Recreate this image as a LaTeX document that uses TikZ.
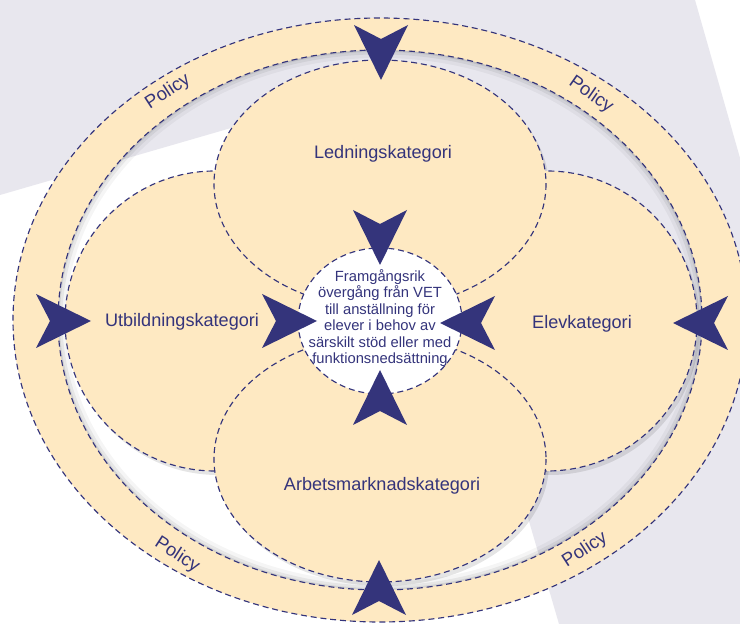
\documentclass[tikz,border=0pt]{standalone}
\usepackage{fontspec}
\setmainfont{Liberation Sans}
\usepackage{tikz}
\usepackage{color,xcolor}
\definecolor{pc}{HTML}{FEE9C2}
\definecolor{nv}{HTML}{34347B}
\definecolor{bg}{HTML}{E8E7EE}

\begin{document}
\begin{tikzpicture}[x=0.02cm,y=-0.02cm,
    dsh/.style={draw=nv,line width=0.65pt,dash pattern=on 3.4pt off 2.2pt},
    blob/.style={fill=pc,dsh},
    cat/.style={text=nv,anchor=base,inner sep=0pt,font=\fontsize{10.3}{12}\selectfont},
    pol/.style={text=nv,inner sep=0pt,font=\fontsize{10.5}{12}\selectfont},
    shd/.style={fill=black,opacity=0.1},
    pics/kite/.style={code={\fill[nv] (0,0) -- (-55,27) -- (-41,0) -- (-55,-27) -- cycle;}}]
  % page background
  \fill[white] (0,0) rectangle (740,624);
  \fill[bg] (0,0) -- (695,0) -- (740,158) -- (740,624) -- (559,624) -- (400,79) -- (0,195) -- cycle;
  \useasboundingbox (0,0) rectangle (740,624);
  \coordinate (mid) at (380,320);
  \coordinate (ut) at (215,321);
  \coordinate (el) at (547,321);
  \coordinate (le) at (380,184);
  \coordinate (ar) at (380,459);
  % policy ring
  \fill[pc,even odd rule] (mid) ellipse [x radius=367,y radius=302] (mid) ellipse [x radius=322,y radius=270];
  \begin{scope}
    \clip (mid) ellipse [x radius=322,y radius=270];
    \foreach \w/\o in {9pt/0.04,5pt/0.06,2pt/0.08}
      \draw[line width=\w,black,opacity=\o] (mid) ellipse [x radius=322,y radius=270];
  \end{scope}
  \draw[dsh] (mid) ellipse [x radius=367,y radius=302];
  \draw[dsh] (mid) ellipse [x radius=322,y radius=270];
  % categories
  \foreach \p/\a/\b in {ut/150/150,el/150/150,le/166/124,ar/166/123}
    \fill[shd] ([shift={(3,4)}]\p) ellipse [x radius=\a,y radius=\b];
  \draw[blob] (ut) ellipse [x radius=150,y radius=150];
  \draw[blob] (el) ellipse [x radius=150,y radius=150];
  \draw[blob] (le) ellipse [x radius=166,y radius=124];
  \draw[blob] (ar) ellipse [x radius=166,y radius=123];
  \draw[dsh,fill=white] (380,321) ellipse [x radius=82,y radius=73];
  \node[cat] (led) at (383,158.5) {Ledningskategori};
  \node[cat] (utb) at (182,326.5) {Utbildningskategori};
  \node[cat] (elev) at (582,328.5) {Elevkategori};
  \node[cat] (arb) at (382,490) {Arbetsmarknadskategori};
  \node[text=nv,align=center,inner sep=0pt,font=\fontsize{8.4}{9.4}\selectfont] (mal) at (380,318)
    {Framgångsrik\\övergång från VET\\till anställning för\\elever i behov av\\särskilt stöd eller med\\funktionsnedsättning};
  \node[pol,rotate=33] (p1) at (168,92) {Policy};
  \node[pol,rotate=-35] (p2) at (591,95) {Policy};
  \node[pol,rotate=-33] (p3) at (177,555) {Policy};
  \node[pol,rotate=33] (p4) at (585,550) {Policy};
  % arrows
  \foreach \t/\r in {{(381,80)}/-90,{(380,265)}/-90,{(91,321)}/0,{(317,321)}/0,
                     {(440,323)}/180,{(673,323)}/180,{(380,370)}/90,{(379,560)}/90}
    \pic[rotate=\r] at \t {kite};
\end{tikzpicture}
\end{document}
